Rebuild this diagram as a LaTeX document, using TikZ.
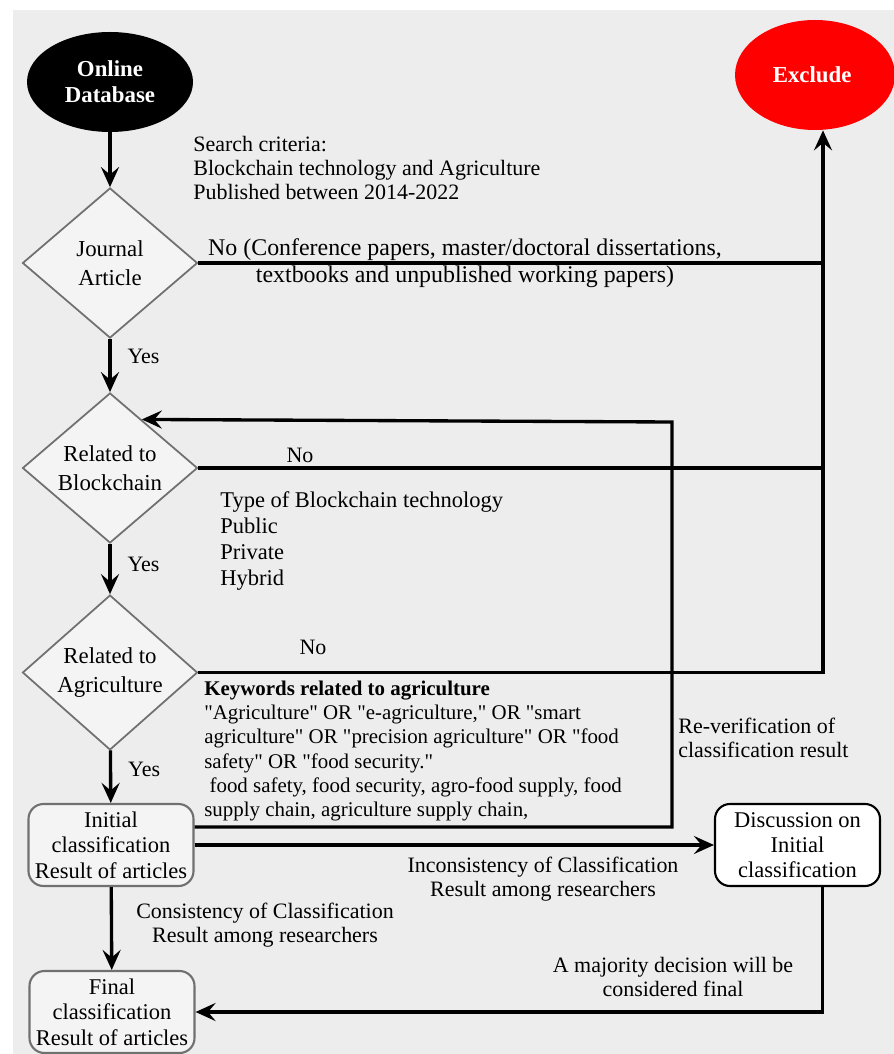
\documentclass[tikz,border=0pt]{standalone}
\usepackage{fontspec}
\setmainfont{Liberation Serif}
\usepackage{tikz}
\usetikzlibrary{arrows.meta,positioning,calc,shapes.geometric}
\definecolor{bggray}{HTML}{EDEDED}
\definecolor{boxgray}{HTML}{F4F4F4}
\definecolor{edgegray}{HTML}{707070}
\newcommand{\qt}{\textquotedbl}

\begin{document}
\begin{tikzpicture}[
    every node/.style={font=\fontsize{12.5}{13.6}\selectfont},
    oval/.style={ellipse, minimum width=3.32cm, minimum height=2cm, text=white, align=center, font=\fontsize{13}{15}\selectfont\bfseries},
    decide/.style={diamond, draw=edgegray, line width=1pt, fill=boxgray, inner sep=0pt, minimum width=3.5cm, minimum height=3cm, align=center, font=\fontsize{13}{16.4}\selectfont},
    result/.style={rectangle, rounded corners=3mm, draw=edgegray, line width=1.2pt, fill=boxgray, minimum width=3.3cm, minimum height=1.64cm, align=center, font=\fontsize{12.8}{14.4}\selectfont},
    arr/.style={line width=1.9pt, -{Stealth[length=4mm,width=3.6mm,inset=1.5mm]}},
    link/.style={line width=2pt},
    note/.style={align=left, anchor=west, inner sep=0pt}
  ]
    % page and background
    \useasboundingbox (0,0) rectangle (17.88,-21.08);
    \fill[white] (0,0) rectangle (17.88,-21.08);
    \fill[bggray] (0.26,-0.2) rectangle (17.88,-21.08);

    \node [oval, fill=black] (db) at (2.2,-1.64) { Online\\Database };
    \node [oval, fill=red, minimum width=3.2cm, minimum height=2.2cm] (excl) at (16.3,-1.5) { Exclude };
    \node [decide] (journal) at (2.2,-5.26) { Journal\\Article };
    \node [decide] (chain) at (2.2,-9.36) { Related to\\Blockchain };
    \node [decide] (agri) at (2.2,-13.45) { Related to\\Agriculture };
    \node [result] (init) at (2.22,-16.9) { Initial\\classification\\Result of articles };
    \node [result] (final) at (2.24,-20.24) { Final\\classification\\Result of articles };
    \node [result, draw=black, fill=white] (disc) at (15.95,-16.9) { Discussion on\\Initial\\classification };

    \coordinate (ex) at (16.46,0);
    \coordinate (rv) at (13.44,-8.44);

    % main flow
    \draw [arr] (db) -- (journal);
    \draw [arr] (journal) -- node [right=2mm, pos=0.33] { Yes } (chain);
    \draw [arr] (chain) -- node [right=2mm, pos=0.4] { Yes } (agri);
    \draw [arr] (agri) -- node [right=2mm, pos=0.37] { Yes } (init);
    \draw [arr] (init) -- (final);

    % exclusions
    \draw [link] (journal.east) -- (journal.east -| ex);
    \draw [link] (chain.east) -- (chain.east -| ex);
    \draw [arr] (agri.east) -- (agri.east -| ex) -- (excl.south -| ex);

    % checking loops
    \draw [arr] ([yshift=3.6mm]init.east) -| (rv) -- ($(chain.north)!0.36!(chain.east)$);
    \draw [arr] (init.east) -- (disc.west);
    \draw [arr] ([xshift=5mm]disc.south) |- (final.east);

    % texts
    \node [note] (search) at (3.86,-3.36) { Search criteria:\\Blockchain technology and Agriculture\\Published between 2014-2022 };
    \node [align=center, font=\fontsize{13.6}{15.5}\selectfont] (nojournal) at (9.3,-5.27) { No (Conference papers, master/doctoral dissertations,\\textbooks and unpublished working papers) };
    \node (nochain) at (6.0,-9.1) { No };
    \node (noagri) at (6.26,-12.94) { No };
    \node [note, font=\fontsize{12.8}{14.7}\selectfont] (types) at (4.4,-10.82) { Type of Blockchain technology\\Public\\Private\\Hybrid };
    \node [note, font=\fontsize{11.9}{13.8}\selectfont] (keys) at (4.08,-15.02) { \textbf{Keywords related to agriculture}\\\qt Agriculture\qt{} OR \qt e-agriculture,\qt{} OR \qt smart\\agriculture\qt{} OR \qt precision agriculture\qt{} OR \qt food\\safety\qt{} OR \qt food security.\qt\\\ food safety, food security, agro-food supply, food\\supply chain, agriculture supply chain, };
    \node [note] (reverify) at (13.56,-14.75) { Re-verification of\\classification result };
    \node [align=center] (incons) at (10.86,-17.59) { Inconsistency of Classification\\Result among researchers };
    \node [align=center] (cons) at (5.3,-18.51) { Consistency of Classification\\Result among researchers };
    \node [align=center] (major) at (13.46,-19.54) { A majority decision will be\\considered final };
\end{tikzpicture}
\end{document}
